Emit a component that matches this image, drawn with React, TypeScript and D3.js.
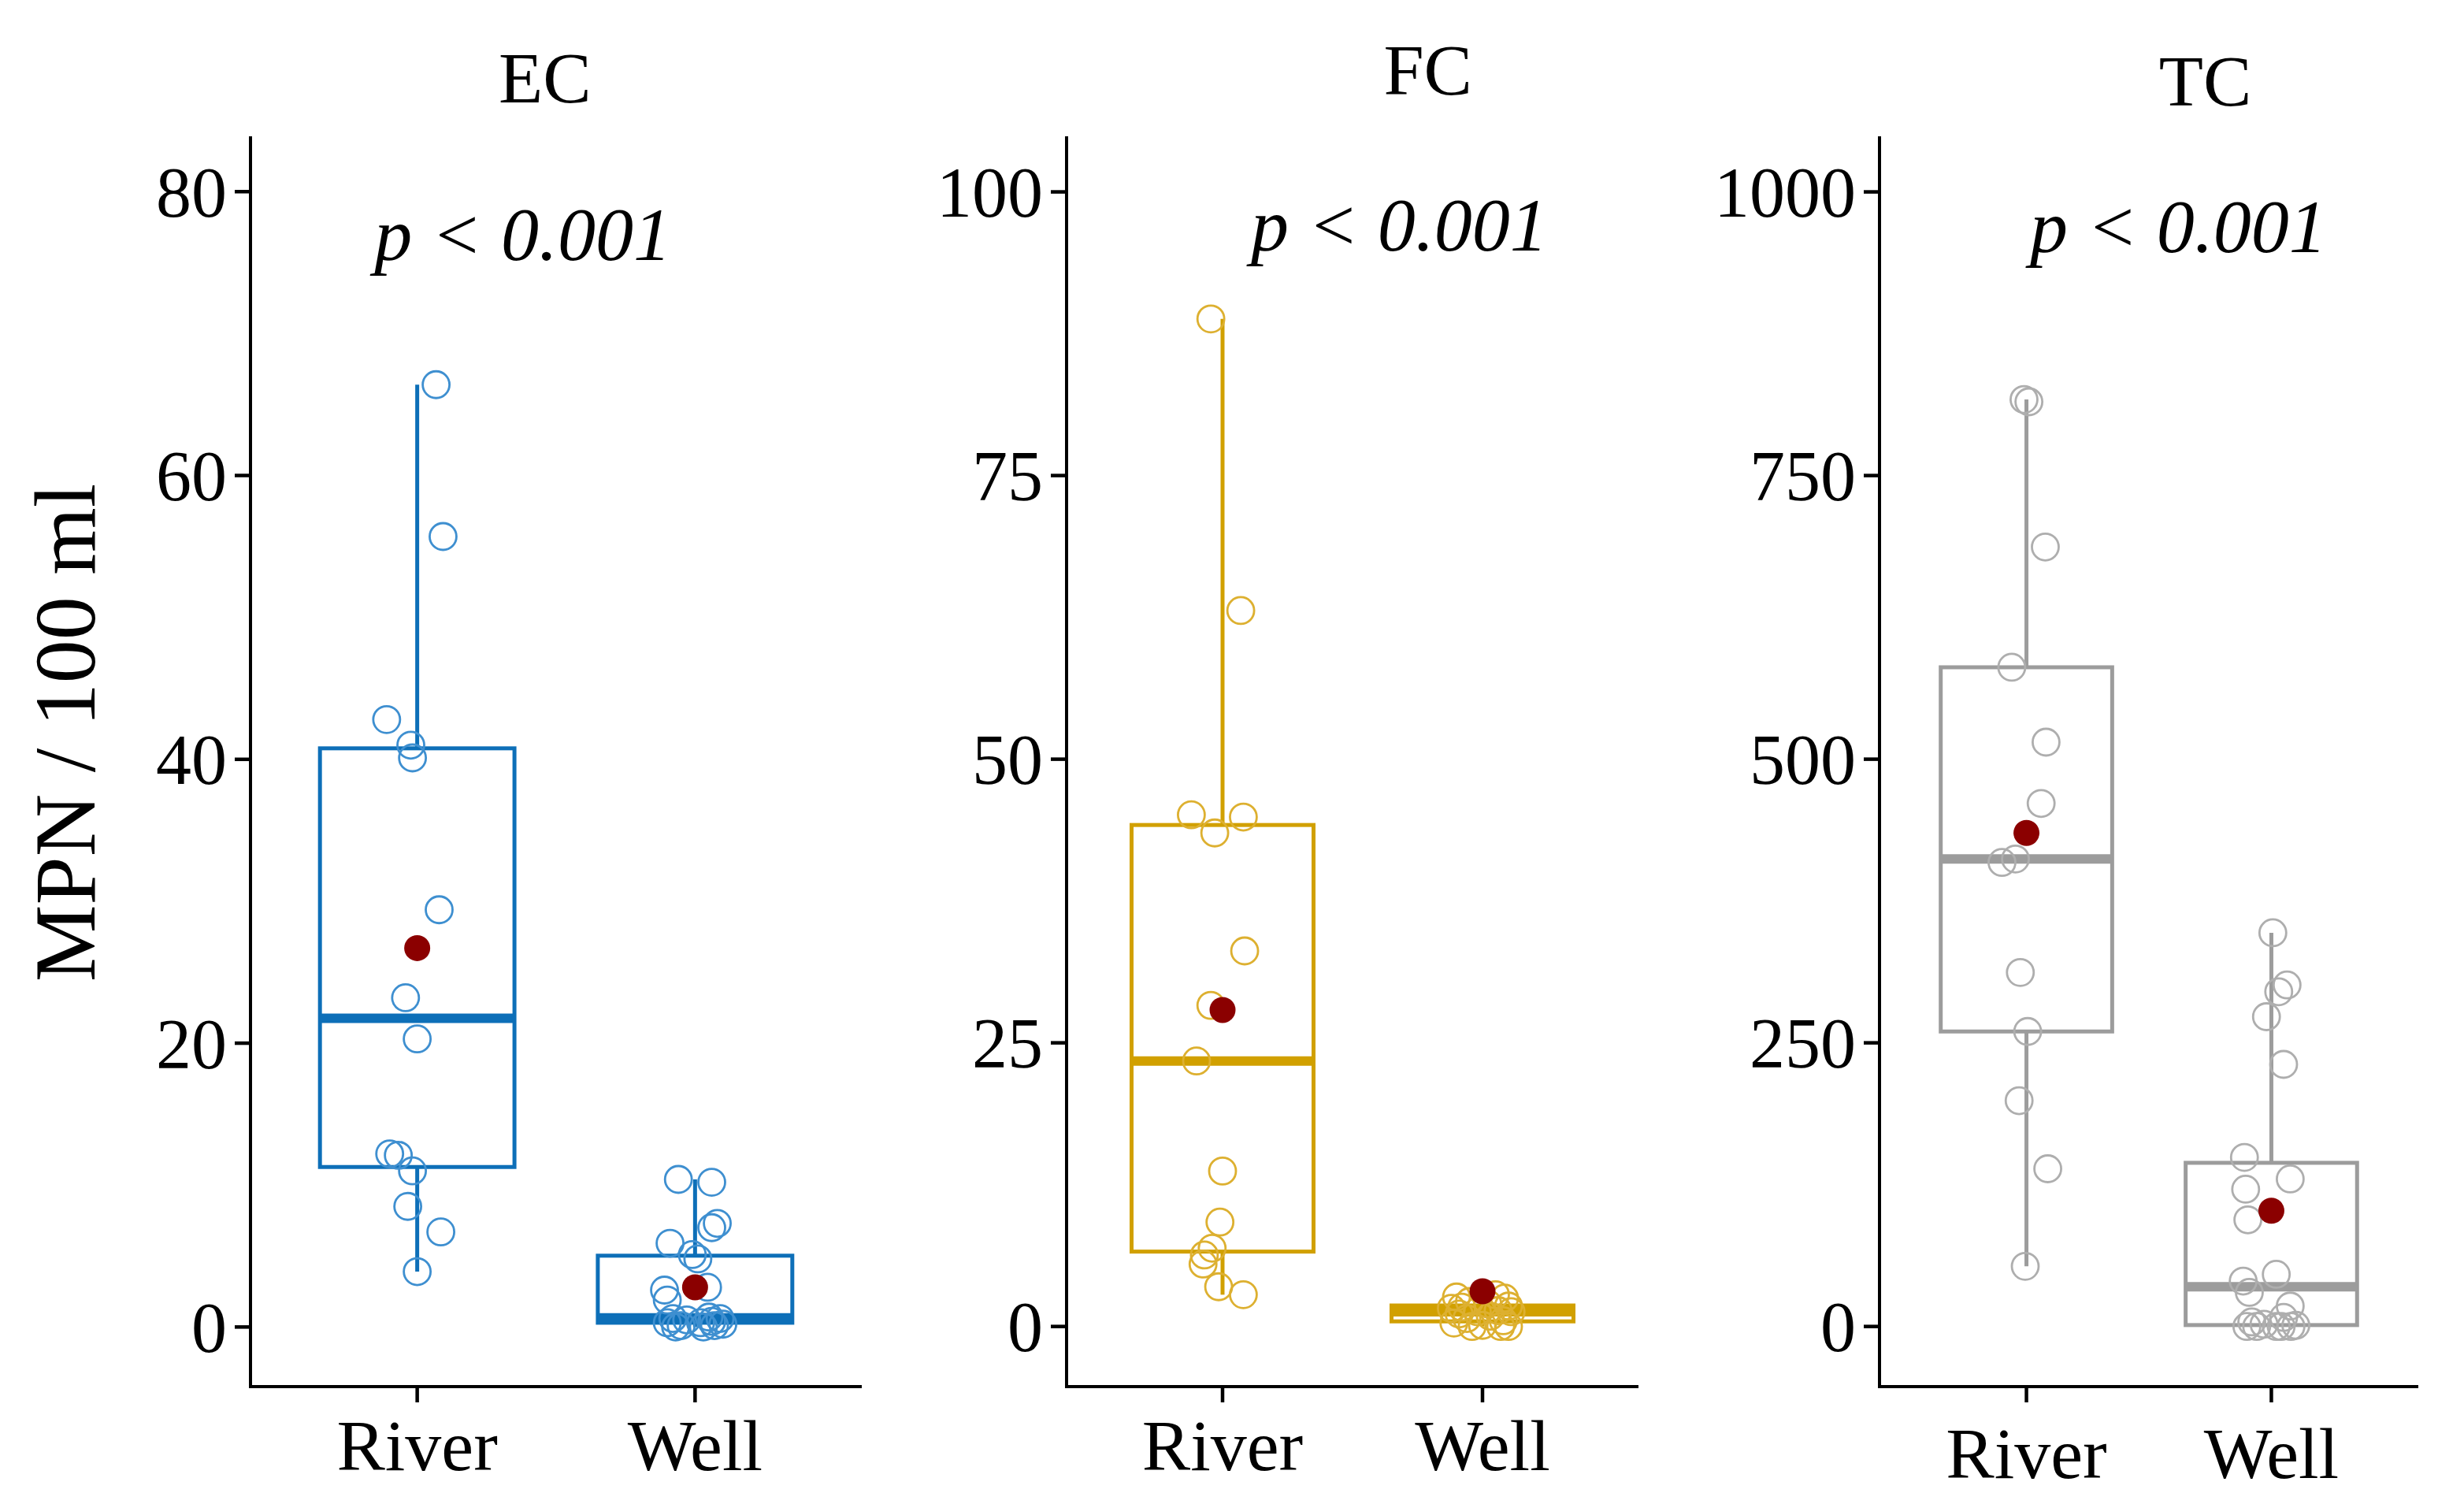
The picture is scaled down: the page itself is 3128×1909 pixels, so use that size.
import React from 'react';
import * as d3 from 'd3';

const groups = ['River', 'Well'];

const ecRiver = [66.4, 55.7, 42.8, 41.0, 40.1, 29.4, 23.2, 20.3, 12.2, 12.1, 11.0, 8.5, 6.7, 3.9];
const ecRiverJitter = [0.068, 0.093, -0.11, -0.023, -0.017, 0.079, -0.042, 0, -0.099, -0.068, -0.017, -0.034, 0.085, 0];
const ecWell = [10.4, 10.2, 7.3, 7.0, 5.9, 5.1, 4.8, 2.8, 2.6, 1.9, 0.7, 0.6, 0.6, 0.5, 0.4, 0.3, 0.3, 0.2, 0.1, 0.1, 0, 0];
const ecWellJitter = [-0.06, 0.06, 0.08, 0.06, -0.09, -0.01, 0.01, 0.045, -0.11, -0.1, 0.05, -0.08, 0.09, -0.03, 0.06, -0.1, 0.02, 0.1, -0.05, 0.07, -0.07, 0.03];
const ecMeans = [26.7, 2.8];

const fcRiver = [88.8, 63.1, 45.1, 44.9, 43.5, 33.1, 28.3, 23.4, 13.7, 9.2, 6.9, 6.3, 5.5, 3.5, 2.8];
const fcRiverJitter = [-0.045, 0.07, -0.12, 0.08, -0.03, 0.085, -0.045, -0.1, 0, -0.01, -0.04, -0.07, -0.075, -0.015, 0.08];
const fcWell = [2.8, 2.6, 2.5, 2.2, 2.0, 1.8, 1.7, 1.6, 1.4, 1.3, 1.3, 1.1, 0.9, 0.7, 0.5, 0.3, 0.1, 0, 0, 0];
const fcWellJitter = [0.05, -0.1, 0.085, -0.05, 0.02, 0.1, -0.08, -0.12, 0.06, -0.02, 0.11, -0.09, 0.03, -0.06, 0.08, -0.11, 0.0, -0.04, 0.07, 0.1];
const fcMeans = [27.9, 3.1];

const tcRiver = [817, 815, 687, 581, 515, 461, 412, 409, 312, 260, 199, 139, 53];
const tcRiverJitter = [-0.01, 0.01, 0.077, -0.06, 0.08, 0.06, -0.045, -0.1, -0.025, 0.005, -0.03, 0.087, -0.005];
const tcWell = [347, 301, 295, 273, 231, 149, 130, 121, 94, 46, 40, 30, 18, 8, 4, 2, 1, 0, 0, 0, 0, 0];
const tcWellJitter = [0.006, 0.064, 0.03, -0.02, 0.05, -0.11, 0.077, -0.105, -0.096, 0.02, -0.115, -0.09, 0.077, 0.05, -0.08, -0.03, 0.1, -0.06, 0.02, 0.08, -0.1, 0.04];
const tcMeans = [435, 102];

const panelTitles = ['EC', 'FC', 'TC'];
const ecTicks = [0, 20, 40, 60, 80];
const fcTicks = [0, 25, 50, 75, 100];
const tcTicks = [0, 250, 500, 750, 1000];
const ecLimits = [-4.2, 83.9];
const fcLimits = [-5.3, 104.9];
const tcLimits = [-53, 1049];
const pLabel = 'p < 0.001';
const yTitle = 'MPN / 100 ml';

const FONT = "'Liberation Serif', 'Times New Roman', serif";

interface PanelSpec {
  title: string;
  series: number[][];
  jitter: number[][];
  means: number[];
  ticks: number[];
  limits: number[];
  color: string;
  pointColor: string;
  xRange: [number, number];
  titleX: number;
  titleY: number;
  pX: number;
  pY: number;
  catY: number;
}

const panels: PanelSpec[] = [
  {
    title: panelTitles[0], series: [ecRiver, ecWell], jitter: [ecRiverJitter, ecWellJitter], means: ecMeans,
    ticks: ecTicks, limits: ecLimits, color: '#0D6FB8', pointColor: '#3E8FD0',
    xRange: [318, 1094], titleX: 1.46, titleY: 130, pX: 1.38, pY: 330, catY: 1866,
  },
  {
    title: panelTitles[1], series: [fcRiver, fcWell], jitter: [fcRiverJitter, fcWellJitter], means: fcMeans,
    ticks: fcTicks, limits: fcLimits, color: '#D1A000', pointColor: '#DDB030',
    xRange: [1354, 2080], titleX: 1.79, titleY: 120, pX: 1.68, pY: 318, catY: 1866,
  },
  {
    title: panelTitles[2], series: [tcRiver, tcWell], jitter: [tcRiverJitter, tcWellJitter], means: tcMeans,
    ticks: tcTicks, limits: tcLimits, color: '#9C9C9C', pointColor: '#AEAEAE',
    xRange: [2386, 3070], titleX: 1.73, titleY: 134, pX: 1.62, pY: 320, catY: 1876,
  },
];

const Y_TOP = 173;
const Y_BOTTOM = 1760;

function boxStats(vals: number[]) {
  const s = [...vals].sort((a, b) => a - b);
  const q1 = d3.quantile(s, 0.25) as number;
  const med = d3.quantile(s, 0.5) as number;
  const q3 = d3.quantile(s, 0.75) as number;
  const iqr = q3 - q1;
  const lo = d3.min(s.filter((v) => v >= q1 - 1.5 * iqr)) as number;
  const hi = d3.max(s.filter((v) => v <= q3 + 1.5 * iqr)) as number;
  return { q1, med, q3, lo, hi };
}

function Panel({ p }: { p: PanelSpec }) {
  const x = d3.scalePoint<string>().domain(groups).range(p.xRange).padding(0.6);
  const step = x.step();
  const y = d3.scaleLinear().domain(p.limits).range([Y_BOTTOM, Y_TOP]);
  const xAt = (pos: number) => (x(groups[0]) as number) + (pos - 1) * step;
  const boxW = 0.7 * step;
  const axisX = p.xRange[0];

  return (
    <g>
      <text x={xAt(p.titleX)} y={p.titleY} fontSize={92} textAnchor="middle" fontFamily={FONT} fill="#000">{p.title}</text>
      {p.series.map((vals, i) => {
        const st = boxStats(vals);
        const cx = x(groups[i]) as number;
        return (
          <g key={'b' + i}>
            <line x1={cx} x2={cx} y1={y(st.q3)} y2={y(st.hi)} stroke={p.color} strokeWidth={5} />
            <line x1={cx} x2={cx} y1={y(st.q1)} y2={y(st.lo)} stroke={p.color} strokeWidth={5} />
            <rect x={cx - boxW / 2} y={y(st.q3)} width={boxW} height={y(st.q1) - y(st.q3)} fill="none" stroke={p.color} strokeWidth={5} />
            <line x1={cx - boxW / 2} x2={cx + boxW / 2} y1={y(st.med)} y2={y(st.med)} stroke={p.color} strokeWidth={12} />
          </g>
        );
      })}
      {p.series.map((vals, i) => (
        <g key={'p' + i}>
          {vals.map((v, j) => (
            <circle key={j} cx={(x(groups[i]) as number) + p.jitter[i][j] * step} cy={y(v)} r={17}
              fill="none" stroke={p.pointColor} strokeWidth={2.8} />
          ))}
        </g>
      ))}
      {p.means.map((m, i) => (
        <circle key={'m' + i} cx={x(groups[i]) as number} cy={y(m)} r={16.5} fill="#8B0000" />
      ))}
      <text x={xAt(p.pX)} y={p.pY} fontSize={96} fontStyle="italic" textAnchor="middle" fontFamily={FONT} fill="#000">{pLabel}</text>
      <line x1={axisX} x2={axisX} y1={Y_TOP} y2={Y_BOTTOM} stroke="#000" strokeWidth={4} />
      {p.ticks.map((t) => (
        <g key={'t' + t}>
          <line x1={axisX - 20} x2={axisX} y1={y(t)} y2={y(t)} stroke="#000" strokeWidth={4.5} />
          <text x={axisX - 30} y={y(t)} dy="0.35em" fontSize={90} textAnchor="end" fontFamily={FONT} fill="#000">{t}</text>
        </g>
      ))}
      <line x1={axisX - 2} x2={p.xRange[1]} y1={Y_BOTTOM} y2={Y_BOTTOM} stroke="#000" strokeWidth={4} />
      {groups.map((g) => (
        <g key={'x' + g}>
          <line x1={x(g) as number} x2={x(g) as number} y1={Y_BOTTOM} y2={Y_BOTTOM + 20} stroke="#000" strokeWidth={4.5} />
          <text x={x(g) as number} y={p.catY} fontSize={92} textAnchor="middle" fontFamily={FONT} fill="#000">{g}</text>
        </g>
      ))}
    </g>
  );
}

export default function App() {
  return (
    <div style={{ position: 'absolute', left: 0, top: 0 }}>
      <svg width={3128} height={1909} viewBox="0 0 3128 1909" style={{ display: 'block', background: '#fff' }}>
        <rect x={0} y={0} width={3128} height={1909} fill="#fff" />
        <text transform="translate(120,930) rotate(-90)" fontSize={110} textAnchor="middle" fontFamily={FONT} fill="#000">{yTitle}</text>
        {panels.map((p, i) => <Panel key={i} p={p} />)}
      </svg>
    </div>
  );
}
